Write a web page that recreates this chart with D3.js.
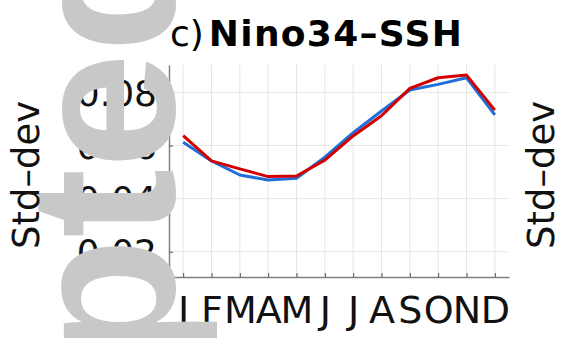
<!DOCTYPE html>
<html>
<head>
<meta charset="utf-8">
<script src="https://cdn.jsdelivr.net/npm/d3@7"></script>
<style>
  html, body { margin: 0; padding: 0; background: #fff; }
  svg { display: block; }
</style>
</head>
<body>
<svg id="chart" width="566" height="338"></svg>
<script>
const months = ["J","F","M","A","M","J","J","A","S","O","N","D"];
const monthIndex = [1,2,3,4,5,6,7,8,9,10,11,12];
const blueValues = [0.0612, 0.0542, 0.0489, 0.0470, 0.0477, 0.0556, 0.0648, 0.0730, 0.0809, 0.0830, 0.0855, 0.0715];
const redValues  = [0.0637, 0.0542, 0.0512, 0.0483, 0.0485, 0.0545, 0.0636, 0.0712, 0.0815, 0.0855, 0.0865, 0.0733];
const yTicks = [0.02, 0.04, 0.06, 0.08];
const yTickLabels = ["0.02", "0.04", "0.06", "0.08"];
const titlePrefix = "c)";
const titleMain = "Nino34\u2013SSH";
const yLabel = "Std\u2013dev";
const watermark = "Accepted";

const svg = d3.select("#chart");
const FONT = "'DejaVu Sans', sans-serif";

const x = d3.scaleLinear().domain([0.5, 12.5]).range([169, 509]);
const y = d3.scaleLinear().domain([0.0105, 0.0903]).range([277, 65]);

// grid
const grid = svg.append("g");
grid.selectAll("line.v").data(monthIndex).join("line")
  .attr("x1", d => x(d)).attr("x2", d => x(d))
  .attr("y1", y.range()[0]).attr("y2", y.range()[1])
  .attr("stroke", "#e6e6e6").attr("stroke-width", 1);
grid.selectAll("line.h").data(yTicks).join("line")
  .attr("x1", x.range()[0]).attr("x2", x.range()[1])
  .attr("y1", d => y(d)).attr("y2", d => y(d))
  .attr("stroke", "#e6e6e6").attr("stroke-width", 1);

// axes
const xAxis = d3.axisBottom(x).tickValues(monthIndex).tickSizeInner(-4).tickSizeOuter(0)
  .tickFormat((d, i) => months[i]);
const gx = svg.append("g").attr("transform", `translate(0,${y.range()[0]})`).call(xAxis);
gx.select(".domain").attr("stroke", "#808080").attr("stroke-width", 1.5);
gx.selectAll(".tick line").attr("stroke", "#555");
gx.selectAll(".tick text").attr("font-family", FONT).attr("font-size", 38)
  .attr("fill", "#111").attr("dy", 0).attr("y", 46);

const yAxis = d3.axisLeft(y).tickValues(yTicks).tickSizeInner(-4).tickSizeOuter(0)
  .tickFormat((d, i) => yTickLabels[i]);
const gy = svg.append("g").attr("transform", `translate(${x.range()[0]},0)`).call(yAxis);
gy.select(".domain").attr("stroke", "#808080").attr("stroke-width", 1.5);
gy.selectAll(".tick line").attr("stroke", "#555");
gy.selectAll(".tick text").attr("font-family", FONT).attr("font-size", 36)
  .attr("fill", "#111").attr("x", -12).attr("dy", "0.36em");

// lines
const line = d3.line().x((d, i) => x(monthIndex[i])).y(d => y(d));
svg.append("path").datum(blueValues).attr("d", line)
  .attr("fill", "none").attr("stroke", "#1f6fd8").attr("stroke-width", 3)
  .attr("stroke-linejoin", "round");
svg.append("path").datum(redValues).attr("d", line)
  .attr("fill", "none").attr("stroke", "#d40000").attr("stroke-width", 3)
  .attr("stroke-linejoin", "round");

// title
const title = svg.append("text").attr("x", 170).attr("y", 46)
  .attr("font-family", FONT).attr("font-size", 36).attr("fill", "#000");
title.append("tspan").text(titlePrefix);
title.append("tspan").attr("dx", 5).attr("font-weight", "bold")
  .attr("letter-spacing", 1.3).text(titleMain);

// watermark
svg.append("text")
  .attr("transform", "translate(174,862) rotate(-90)")
  .attr("font-family", "'Liberation Sans', Arial, sans-serif")
  .attr("font-weight", "bold").attr("font-size", 208)
  .attr("fill", "#c8c8c8").text(watermark);

// y labels
svg.append("text").attr("transform", "translate(39,175) rotate(-90)")
  .attr("text-anchor", "middle").attr("font-family", FONT).attr("font-size", 37)
  .attr("fill", "#111").text(yLabel);
svg.append("text").attr("transform", "translate(554,175) rotate(-90)")
  .attr("text-anchor", "middle").attr("font-family", FONT).attr("font-size", 37)
  .attr("fill", "#111").text(yLabel);
</script>
</body>
</html>
